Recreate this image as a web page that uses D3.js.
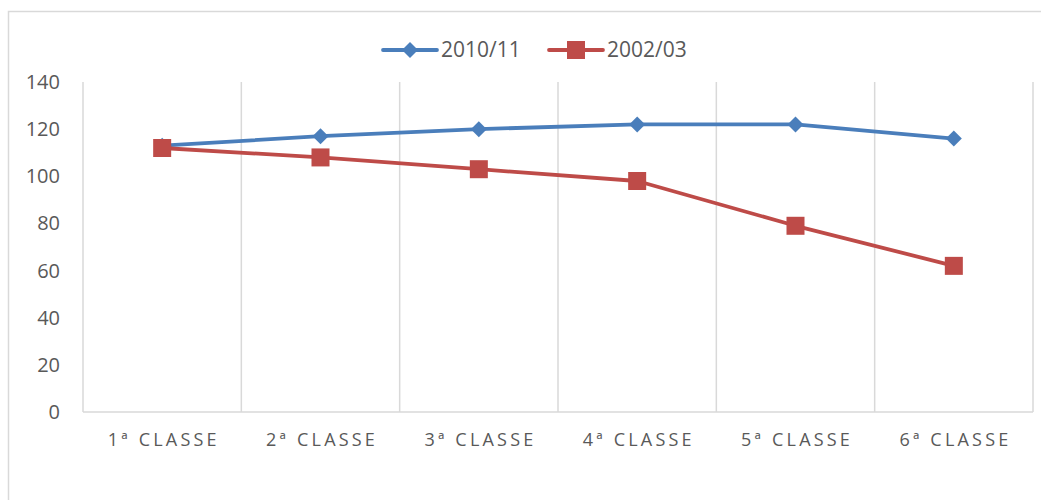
<!DOCTYPE html>
<html>
<head>
<meta charset="utf-8">
<script src="https://cdn.jsdelivr.net/npm/d3@7"></script>
<style>
  body { margin: 0; background: #fff; }
  text { font-family: "Open Sans", "Noto Sans", sans-serif; fill: #595959; }
</style>
</head>
<body>
<div id="chart"></div>
<script>
// data
const categories = ["1ª CLASSE", "2ª CLASSE", "3ª CLASSE", "4ª CLASSE", "5ª CLASSE", "6ª CLASSE"];
const series2010 = [113, 117, 120, 122, 122, 116];
const series2002 = [112, 108, 103, 98, 79, 62];
const yTicks = [0, 20, 40, 60, 80, 100, 120, 140];

const width = 1041, height = 500;
const margin = { top: 82, right: 8, bottom: 88, left: 83 };
const series = [
  { name: "2010/11", values: series2010, color: "#4a7ebb", shape: "diamond" },
  { name: "2002/03", values: series2002, color: "#be4b48", shape: "square" }
];

const svg = d3.select("#chart").append("svg")
  .attr("width", width).attr("height", height);

// outer chart border
svg.append("rect")
  .attr("x", 8.5).attr("y", 11.5)
  .attr("width", width + 10).attr("height", height + 10)
  .attr("fill", "none").attr("stroke", "#d9d9d9").attr("stroke-width", 1.5);

const x = d3.scaleBand().domain(categories)
  .range([margin.left, width - margin.right]);
const y = d3.scaleLinear().domain([0, 140])
  .range([height - margin.bottom, margin.top]);

// vertical grid lines at category boundaries
const bounds = categories.map(c => x(c)).concat([x.range()[1]]);
svg.append("g").selectAll("line").data(bounds).join("line")
  .attr("x1", d => d).attr("x2", d => d)
  .attr("y1", y(140)).attr("y2", y(0))
  .attr("stroke", "#d9d9d9").attr("stroke-width", 1.5);

// bottom axis line
svg.append("line")
  .attr("x1", x.range()[0]).attr("x2", x.range()[1])
  .attr("y1", y(0)).attr("y2", y(0))
  .attr("stroke", "#d9d9d9").attr("stroke-width", 1.5);

// y labels
svg.append("g").selectAll("text").data(yTicks).join("text")
  .attr("x", 60).attr("y", d => y(d))
  .attr("dy", "0.35em")
  .attr("text-anchor", "end")
  .style("font-size", "20px")
  .text(d => d);

// x labels
svg.append("g").selectAll("text").data(categories).join("text")
  .attr("x", d => x(d) + x.bandwidth() / 2 + 1.6)
  .attr("y", 446)
  .attr("text-anchor", "middle")
  .style("font-size", "18px")
  .style("letter-spacing", "3.2px")
  .text(d => d);

const line = d3.line()
  .x((d, i) => x(categories[i]) + x.bandwidth() / 2)
  .y(d => y(d));

function marker(sel, shape, color) {
  if (shape === "diamond") {
    sel.append("path")
      .attr("d", "M0,-8L8,0L0,8L-8,0Z")
      .attr("fill", color);
  } else {
    sel.append("rect")
      .attr("x", -9).attr("y", -9).attr("width", 18).attr("height", 18)
      .attr("fill", color);
  }
}

series.forEach(s => {
  svg.append("path")
    .datum(s.values)
    .attr("fill", "none")
    .attr("stroke", s.color)
    .attr("stroke-width", 3.8)
    .attr("stroke-linejoin", "round")
    .attr("d", line);
  svg.append("g").selectAll("g").data(s.values).join("g")
    .attr("transform", (d, i) => `translate(${x(categories[i]) + x.bandwidth() / 2},${y(d)})`)
    .each(function () { marker(d3.select(this), s.shape, s.color); });
});

// legend
const legendX = [383, 549];
series.forEach((s, i) => {
  const g = svg.append("g").attr("transform", `translate(${legendX[i]},50)`);
  g.append("line").attr("x1", 0).attr("x2", 54)
    .attr("stroke", s.color).attr("stroke-width", 3.8).attr("stroke-linecap", "round");
  const m = g.append("g").attr("transform", "translate(27,0)");
  marker(m, s.shape, s.color);
  g.append("text").attr("x", 58).attr("dy", "0.35em")
    .style("font-size", "21px").text(s.name);
});
</script>
</body>
</html>
